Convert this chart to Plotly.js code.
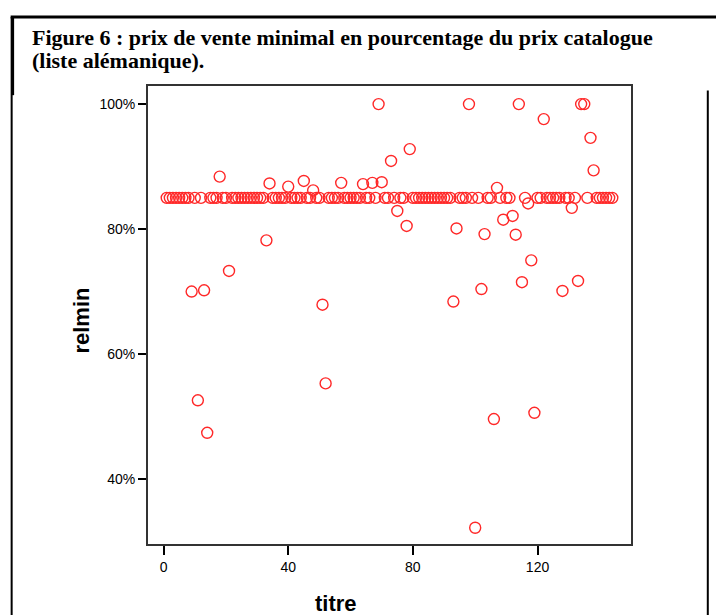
<!DOCTYPE html>
<html>
<head>
<meta charset="utf-8">
<script src="https://cdn.plot.ly/plotly-3.0.1.min.js"></script>
<style>
html,body{margin:0;padding:0;background:#fff;}
#chart{width:716px;height:615px;}
</style>
</head>
<body>
<div id="chart"></div>
<script>
// Titles whose minimal price departs from the common 85% level
const outlierTitre = [9, 11, 13, 14, 18, 21, 33, 34, 40, 45, 48, 51, 52, 57, 64, 67, 69, 70, 73, 75, 78, 79,
  93, 94, 98, 100, 102, 103, 106, 107, 109, 112, 113, 114, 115, 117, 118, 119, 122, 128, 131, 133, 134, 135, 137, 138];
const outlierRelmin = [0.700, 0.526, 0.702, 0.474, 0.884, 0.733, 0.782, 0.873, 0.868, 0.877, 0.862, 0.679, 0.553, 0.874,
  0.872, 0.874, 1.000, 0.875, 0.909, 0.829, 0.805, 0.928,
  0.684, 0.801, 1.000, 0.322, 0.704, 0.792, 0.496, 0.866, 0.815, 0.821, 0.791, 1.000, 0.715, 0.841, 0.750, 0.506,
  0.976, 0.701, 0.834, 0.717, 1.000, 1.000, 0.946, 0.894];
// All other titles (1..144) sit at the common level
const firstTitre = 1;
const lastTitre = 144;
const commonLevel = 0.85;

const yTickVals = [0.4, 0.6, 0.8, 1.0];
const xTickVals = [0, 40, 80, 120];

const titleLines = ['Figure 6 : prix de vente minimal en pourcentage du prix catalogue', '(liste alémanique).'];

const titre = [];
const relmin = [];
for (let t = firstTitre; t <= lastTitre; t++) {
  const k = outlierTitre.indexOf(t);
  titre.push(t);
  relmin.push(k >= 0 ? outlierRelmin[k] : commonLevel);
}

const trace = {
  x: titre,
  y: relmin,
  type: 'scatter',
  mode: 'markers',
  marker: {symbol: 'circle-open', size: 11, color: 'rgb(255,40,40)', line: {width: 1.4, color: 'rgb(255,40,40)'}},
  hoverinfo: 'x+y'
};

const axisFont = {family: 'Liberation Sans, Arial, sans-serif', size: 22, color: '#000'};
const titleFont = {family: 'Liberation Serif, Times New Roman, serif', size: 22, color: '#000'};
const px = v => (v - 147.5) / 483.5;
const py = v => (544 - v) / 458;

const layout = {
  width: 716, height: 615,
  margin: {l: 147.5, r: 85, t: 86, b: 71},
  paper_bgcolor: '#ffffff', plot_bgcolor: '#ffffff',
  showlegend: false,
  xaxis: {
    range: [-5, 150], tickvals: xTickVals, ticktext: xTickVals.map(String),
    ticks: 'outside', ticklen: 9, tickwidth: 2, tickcolor: '#000',
    showline: true, linecolor: '#333', linewidth: 2, mirror: true,
    showgrid: false, zeroline: false,
    tickfont: {family: 'Liberation Sans, Arial, sans-serif', size: 14, color: '#000'}
  },
  yaxis: {
    range: [0.296, 1.029], tickvals: yTickVals, tickformat: '.0%',
    ticks: 'outside', ticklen: 8, tickwidth: 2.5, tickcolor: '#000',
    showline: true, linecolor: '#333', linewidth: 2, mirror: true,
    showgrid: false, zeroline: false,
    tickfont: {family: 'Liberation Sans, Arial, sans-serif', size: 14, color: '#000'}
  },
  annotations: [
    {
      xref: 'paper', yref: 'paper', x: px(29), y: py(38), xanchor: 'left', yanchor: 'middle', align: 'left',
      showarrow: false, text: '<b>' + titleLines[0] + '</b>', font: titleFont
    },
    {
      xref: 'paper', yref: 'paper', x: px(29), y: py(61), xanchor: 'left', yanchor: 'middle', align: 'left',
      showarrow: false, text: '<b>' + titleLines[1] + '</b>', font: titleFont
    },
    {
      xref: 'paper', yref: 'paper', x: px(336), y: py(603), xanchor: 'center', yanchor: 'middle',
      showarrow: false, text: '<b>titre</b>', font: axisFont
    },
    {
      xref: 'paper', yref: 'paper', x: px(80), y: py(321), xanchor: 'center', yanchor: 'middle',
      showarrow: false, textangle: -90, text: '<b>relmin</b>', font: axisFont
    }
  ],
  shapes: [
    {type: 'line', xref: 'paper', yref: 'paper', x0: -0.2844, x1: 1.18, y0: 1.1507, y1: 1.1507, line: {color: '#000', width: 3}},
    {type: 'line', xref: 'paper', yref: 'paper', x0: -0.2823, x1: -0.2823, y0: 1.1507, y1: -0.16, line: {color: '#000', width: 2}},
    {type: 'line', xref: 'paper', yref: 'paper', x0: -0.2803, x1: -0.2803, y0: 1.1507, y1: 0.98, line: {color: '#000', width: 3}},
    {type: 'line', xref: 'paper', yref: 'paper', x0: 1.159, x1: 1.159, y0: 0.99, y1: -0.16, line: {color: '#000', width: 2}}
  ]
};

Plotly.newPlot('chart', [trace], layout, {displayModeBar: false, staticPlot: true});
</script>
</body>
</html>
